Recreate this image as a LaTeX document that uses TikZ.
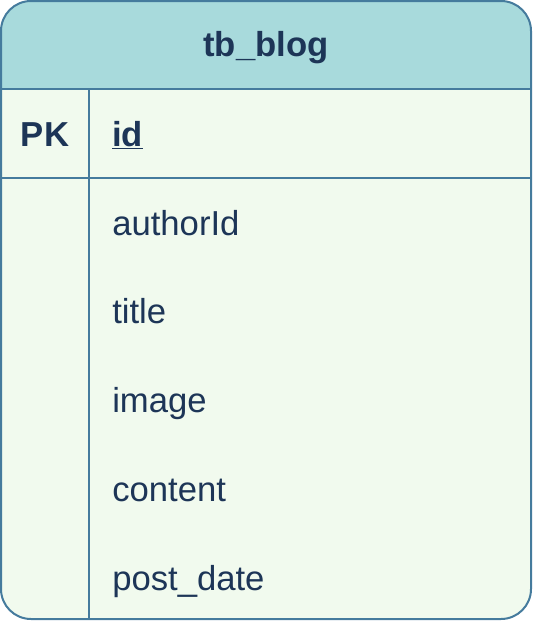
\documentclass[tikz,border=0pt]{standalone}
\usepackage{fontspec}
\setmainfont{Liberation Sans}
\definecolor{ink}{HTML}{1D3557}
\definecolor{edge}{HTML}{457B9D}
\definecolor{headfill}{HTML}{A8DADC}
\definecolor{bodyfill}{HTML}{F1FAEE}
\begin{document}
\begin{tikzpicture}[
    x=0.75pt,
    y=-0.75pt,
    node distance=66.56pt,
    title/.style={
        font=\fontsize{26}{31}\selectfont\bfseries,
        text=ink,
        inner sep=0pt,
        text height=18.6pt,
        text depth=0pt
    },
    key/.style={
        title
    },
    field/.style={
        font=\fontsize{26}{31}\selectfont,
        text=ink,
        text width=225pt,
        align=left,
        inner sep=0pt,
        text height=18.6pt,
        text depth=0pt
    },
    rule/.style={
        draw=edge,
        line width=1.5pt
    }
]
\useasboundingbox (0,0) rectangle (532,621);

% Table body and header band
\fill [bodyfill, rounded corners=22.5pt] (1,1) rectangle (531,619);
\begin{scope}
    \clip [rounded corners=22.5pt] (1,1) rectangle (531,619);
    \fill [headfill] (0,0) rectangle (532,89);
\end{scope}

% Row and column rules
\draw [rule] (1,89) -- (531,89);
\draw [rule] (1,178) -- (531,178);
\draw [rule] (89,89) -- (89,619);
\draw [rule, rounded corners=22.5pt] (1,1) rectangle (531,619);

% Header
\node [title] (tbl) at (266,44) {tb\_blog};

% Key column
\node [key] (pk) at (45,134) {PK};

% Fields
\node [field, font=\fontsize{26}{31}\selectfont\bfseries, anchor=west] (id) at (112,134) {\underline{id}};
\node [field, below of=id] (authorid) {authorId};
\node [field, below of=authorid] (title) {title};
\node [field, below of=title] (image) {image};
\node [field, below of=image] (content) {content};
\node [field, below of=content] (postdate) {post\_date};

\end{tikzpicture}
\end{document}
